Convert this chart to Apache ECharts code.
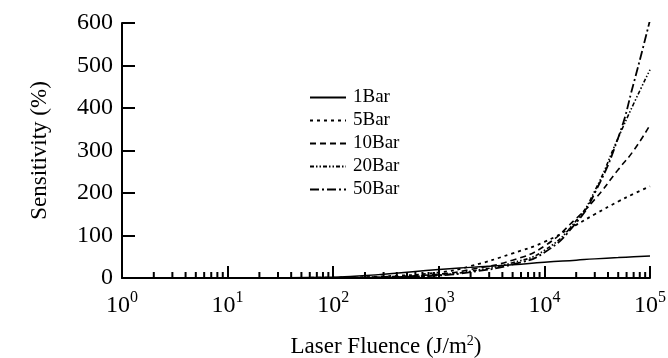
<!DOCTYPE html>
<html>
<head>
<meta charset="utf-8">
<script src="https://cdn.jsdelivr.net/npm/echarts@6/dist/echarts.min.js"></script>
<style>
  html, body { margin: 0; padding: 0; background: #fff; }
  #chart { width: 668px; height: 358px; }
</style>
</head>
<body>
<div id="chart"></div>
<script>
// Laser fluence sample points (J/m^2)
const fluence = [1, 10, 100, 300, 1000, 2000, 5000, 10000, 20000, 30000, 50000, 70000, 100000];

// Sensitivity (%) at each fluence, per gas pressure
const bar1  = [0, 0.2, 2, 9, 20, 25, 31, 37, 42, 45, 48, 50, 52];
const bar5  = [0, 0, 1, 4, 13, 28, 58, 85, 125, 150, 180, 198, 216];
const bar10 = [0, 0, 0.5, 3, 9, 20, 42, 75, 140, 185, 255, 300, 360];
const bar20 = [0, 0, 0.3, 2, 7, 16, 36, 65, 135, 205, 330, 410, 490];
const bar50 = [0, 0, 0.2, 1.5, 6, 14, 32, 60, 130, 200, 330, 458, 607];

const seriesNames = ['1Bar', '5Bar', '10Bar', '20Bar', '50Bar'];

// Minor tick positions between the decades of the log axis
const minorTickValues = [];
for (let e = 0; e < 5; e++) {
  for (let m = 2; m <= 9; m++) minorTickValues.push(m * Math.pow(10, e));
}

const serif = '"Liberation Serif", "DejaVu Serif", serif';

function pairs(ys) { return fluence.map((x, i) => [x, ys[i]]); }

function lineSeries(name, ys, dash, width) {
  return {
    name: name,
    type: 'line',
    data: pairs(ys),
    smooth: true,
    symbol: 'none',
    lineStyle: { color: '#000', width: width, type: dash },
    itemStyle: { color: '#000' },
    z: 3
  };
}

const chart = echarts.init(document.getElementById('chart'));
chart.setOption({
  animation: false,
  backgroundColor: '#fff',
  grid: { left: 122, right: 18, top: 23, bottom: 80, containLabel: false, outerBoundsMode: 'none' },
  legend: {
    data: seriesNames,
    orient: 'vertical',
    left: 304,
    top: 83,
    itemWidth: 36,
    itemHeight: 14,
    itemGap: 4,
    itemStyle: { opacity: 0 },
    textStyle: { fontFamily: serif, fontSize: 19, color: '#000', padding: [0, 0, 0, 2] }
  },
  xAxis: {
    type: 'log',
    logBase: 10,
    min: 1,
    max: 100000,
    splitLine: { show: false },
    axisLine: { lineStyle: { color: '#000', width: 2 } },
    axisTick: { inside: true, length: 12, lineStyle: { color: '#000', width: 2 } },
    axisLabel: {
      margin: 12,
      formatter: function (v) {
        const e = Math.round(Math.log10(v));
        return '{b|10}{s|' + e + '}';
      },
      rich: {
        b: { fontFamily: serif, fontSize: 24, color: '#000', verticalAlign: 'bottom' },
        s: { fontFamily: serif, fontSize: 16, color: '#000', verticalAlign: 'top', padding: [0, 0, 12, 0] }
      }
    },
    name: '{t|Laser Fluence (J/m}{s|2}{t|)}',
    nameLocation: 'middle',
    nameGap: 56,
    nameTextStyle: {
      rich: {
        t: { fontFamily: serif, fontSize: 23, color: '#000' },
        s: { fontFamily: serif, fontSize: 14, color: '#000', padding: [0, 0, 12, 0] }
      }
    }
  },
  yAxis: {
    type: 'value',
    min: 0,
    max: 600,
    interval: 100,
    splitLine: { show: false },
    axisLine: { show: true, lineStyle: { color: '#000', width: 2 } },
    axisTick: { show: true, inside: true, length: 13, lineStyle: { color: '#000', width: 2 } },
    axisLabel: { margin: 9, fontFamily: serif, fontSize: 24, color: '#000' },
    name: 'Sensitivity (%)',
    nameLocation: 'middle',
    nameGap: 71,
    nameTextStyle: { fontFamily: serif, fontSize: 23, color: '#000' }
  },
  series: [
    lineSeries('1Bar', bar1, 'solid', 1.5),
    lineSeries('5Bar', bar5, [3, 4], 1.8),
    lineSeries('10Bar', bar10, [6, 4], 1.6),
    lineSeries('20Bar', bar20, [4, 2, 1.5, 2, 1.5, 2], 1.6),
    lineSeries('50Bar', bar50, [9, 3, 2, 3], 1.8),
    {
      name: 'minorTicks',
      type: 'custom',
      silent: true,
      clip: false,
      data: minorTickValues.map(v => [v, 0]),
      renderItem: function (params, api) {
        const p = api.coord([api.value(0), 0]);
        return {
          type: 'line',
          shape: { x1: p[0], y1: p[1], x2: p[0], y2: p[1] - 6 },
          style: { stroke: '#000', lineWidth: 2 }
        };
      },
      z: 4
    }
  ]
});
</script>
</body>
</html>
